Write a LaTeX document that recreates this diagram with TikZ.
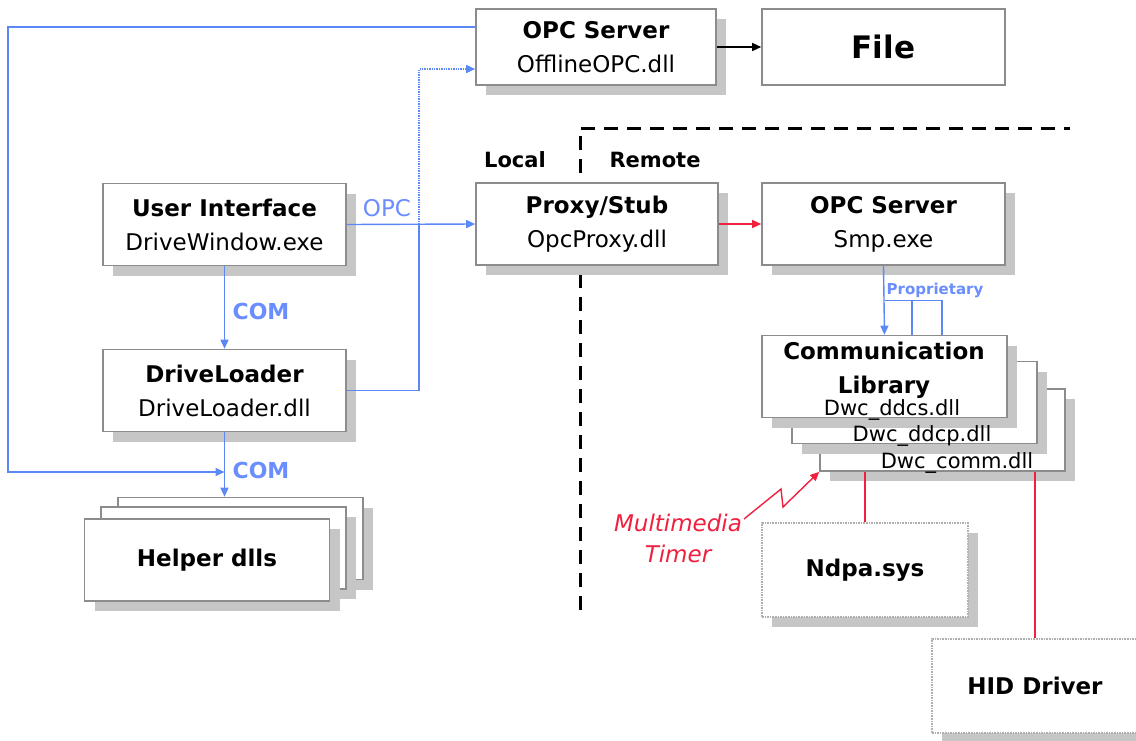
\documentclass[tikz,border=0pt]{standalone}
\usepackage{fontspec}
\setmainfont{DejaVu Sans}
\usepackage{tikz}
\usetikzlibrary{calc,arrows.meta,shadows}
\definecolor{boxgray}{HTML}{8C8C8C}
\definecolor{shadegray}{HTML}{C6C6C6}
\definecolor{opcblue}{HTML}{5C88F6}
\definecolor{lblblue}{HTML}{6A8DFF}
\definecolor{tmred}{HTML}{F0203F}
\tikzset{
  plainbox/.style={draw=boxgray, line width=1.6pt, fill=white, minimum width=243pt, minimum height=82pt,
    inner sep=2pt, align=center, font=\fontsize{23}{34}\selectfont},
  box/.style={plainbox,
    drop shadow={shadow xshift=10pt, shadow yshift=-10pt, fill=shadegray, opacity=1}},
  dotbox/.style={box, draw=boxgray!70, densely dotted, line width=1.2pt},
  blue line/.style={draw=opcblue, line width=1.4pt},
  red line/.style={draw=tmred, line width=1.4pt},
  tip/.style={-{Triangle[length=9pt,width=8pt]}},
  bluelbl/.style={text=lblblue, font=\fontsize{22}{26}\selectfont\bfseries},
  sidelbl/.style={font=\fontsize{21}{26}\selectfont\bfseries},
  dlltext/.style={font=\fontsize{21}{26}\selectfont, inner sep=0pt},
  every picture/.append style={baseline=(current bounding box.center)}
}

\begin{document}
\begin{tikzpicture}[x=1pt,y=-1pt]
  \useasboundingbox (0,0) rectangle (1136,740);
  \fill[white] (0,0) rectangle (1136,740);

  \draw[line width=3pt, dash pattern=on 14pt off 9pt] (580,610) -- (580,128) -- (1070,128);
  \node[sidelbl] (local) at (515,160) {Local};
  \node[sidelbl] (remote) at (655,160) {Remote};

  \node[box, minimum width=240pt, minimum height=76pt] (opcoff) at (596,47) {\textbf{OPC Server}\\OfflineOPC.dll};
  \node[plainbox, minimum height=76pt, font=\fontsize{31}{36}\selectfont\bfseries] (file) at (883.5,47) {File};
  \node[box] (ui) at (224.5,224.5) {\textbf{User Interface}\\DriveWindow.exe};
  \node[box, minimum width=242pt] (proxy) at (597,224) {\textbf{Proxy/Stub}\\OpcProxy.dll};
  \node[box] (smp) at (883.5,224) {\textbf{OPC Server}\\Smp.exe};
  \node[box] (dl) at (224.5,390.5) {\textbf{DriveLoader}\\DriveLoader.dll};

  \node[box, minimum width=245pt] (helperc) at (240.5,538.5) {};
  \node[box, minimum width=245pt] (helperb) at (223.5,548) {};
  \node[box, minimum width=245pt] (helper) at (207,560) {\textbf{Helper dlls}};

  \node[box, minimum width=245pt] (comm3) at (942.5,430) {};
  \node[box, minimum width=245pt] (comm2) at (914.5,402.5) {};
  \node[box, minimum width=245pt] (comm) at (884.5,376.5) {};
  \node[dlltext] (comm3txt) at (957,463) {Dwc\_comm.dll};
  \node[dlltext] (comm2txt) at (922,436) {Dwc\_ddcp.dll};
  \node[dlltext] (commtxt) at (892,410) {Dwc\_ddcs.dll};
  \node[align=center, font=\fontsize{23}{34}\selectfont\bfseries, inner sep=0pt] (commname) at (884,370) {Communication\\Library};

  \node[dotbox, minimum width=206pt, minimum height=94pt, font=\fontsize{23}{34}\selectfont\bfseries] (ndpa) at (865,570) {Ndpa.sys};
  \node[dotbox, minimum width=206pt, minimum height=94pt, font=\fontsize{23}{34}\selectfont\bfseries] (hid) at (1035,686) {HID Driver};

  \coordinate (tmstart) at (744,519);
  \node[text=tmred, align=center, font=\fontsize{23}{31}\selectfont\itshape] (timer) at (678,538) {Multimedia\\Timer};

  \draw[line width=1.4pt, tip] (opcoff.east) -- (file.west);
  \draw[red line, tip] (proxy.east) -- (smp.west);
  \draw[blue line, tip] (ui.east) -- (proxy.west);
  \node[text=lblblue, font=\fontsize{23}{26}\selectfont] (opclbl) at (387,208) {OPC};
  \draw[blue line, tip] (ui.south) -- (dl.north);
  \node[bluelbl] (com1) at (261,311) {COM};
  \draw[blue line, tip] (dl.south) -- (dl.south |- helperc.north);
  \node[bluelbl] (com2) at (261,470) {COM};
  \coordinate (comjoin) at (dl.south |- 0,472);
  \draw[blue line, tip] ([yshift=20pt]opcoff.west) -| (8,472) -- (comjoin);
  \draw[blue line] (dl.east) -| (419,224.5);
  \draw[blue line, densely dotted, tip] (419,224.5) |- ([yshift=-22pt]opcoff.west);

  \draw[blue line, tip] (smp.south) -- (comm.north);
  \draw[blue line] ($(comm.north)+(0,-34)$) -| ($(comm.north)+(57.5,0)$);
  \draw[blue line] ($(comm.north)+(27.5,-34)$) -- ($(comm.north)+(27.5,0)$);
  \node[text=lblblue, font=\fontsize{15}{18}\selectfont\bfseries] (proplbl) at (935,290) {Proprietary};

  \draw[red line] (ndpa.north) -- (ndpa.north |- comm3.south);
  \draw[red line] (hid.north) -- (hid.north |- comm3.south);
  \draw[red line, tip] (tmstart) -- (781,489) -- (783,507) -- (comm3.south west);
\end{tikzpicture}
\end{document}
